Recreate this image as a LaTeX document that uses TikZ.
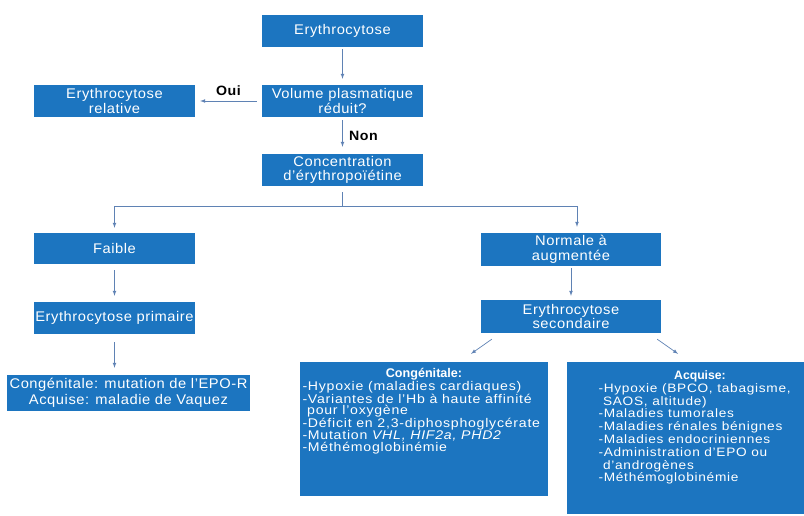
\documentclass[tikz,border=0pt]{standalone}
\usepackage{fontspec}
\setmainfont{Liberation Sans}[FakeStretch=1.05, LetterSpace=4]
\newfontfamily\listfont{Liberation Sans}[FakeStretch=1.12, LetterSpace=6]
\newfontfamily\titlefont{Liberation Sans}
\usepackage{xcolor}
\usepackage{tikz}
\usetikzlibrary{positioning, calc, arrows.meta}
\definecolor{boxblue}{RGB}{28,117,192}
\definecolor{arrowblue}{RGB}{95,130,180}

\begin{document}
\begin{tikzpicture}[x=1pt, y=-1pt]
			\tikzset{arrow/.style={-latex, arrowblue, line width=0.7pt}}
			\tikzset{box/.style={fill=boxblue, text=white, minimum width=161pt, minimum height=32pt, inner xsep=1pt, inner ysep=2pt, align=center, font=\fontsize{14}{14.5}\selectfont}}
			\tikzset{answer/.style={text=black, font=\fontsize{13.5}{13.5}\selectfont\bfseries}}
			\tikzset{list/.style={box, inner sep=2pt, font=\listfont\fontsize{12.6}{11.8}\selectfont}}

			\useasboundingbox (0,0) rectangle (804,516);

			\node (ery) [box] at (342.5,31) {Erythrocytose};
			\node (vol) [box] at (342.5,101) {Volume plasmatique\\réduit?};
			\node (rel) [box] at (114.5,101) {Erythrocytose\\relative};
			\node (conc) [box] at (342.5,170) {Concentration\\d’érythropoïétine};
			\coordinate (split) at (342.5,206);

			\node (faible) [box, minimum height=31pt] at (114.5,248.5) {Faible};
			\node (prim) [box] at (114.5,318) {Erythrocytose primaire};
			\node (primres) [box, minimum width=243pt, minimum height=36pt, font=\fontsize{14}{16}\selectfont] at (128.5,393) {Congénitale: mutation de l’EPO-R\\Acquise: maladie de Vaquez};

			\node (norm) [box, minimum width=180pt, minimum height=33pt] at (571,249.5) {Normale à\\augmentée};
			\node (sec) [box, minimum width=180pt, minimum height=33pt] at (571,316.5) {Erythrocytose\\secondaire};

			\node (cong) [list, minimum width=248pt, text height=13.5pt, text depth=116.5pt] at (424,429) {\parbox[t]{243pt}{%
				\centering{\titlefont\bfseries Congénitale:}\par
				\raggedright
				-Hypoxie (maladies cardiaques)\\
				-Variantes de l’Hb à haute affinité\\
				\phantom{-}pour l’oxygène\\
				-Déficit en 2,3-diphosphoglycérate\\
				-Mutation \textit{VHL, HIF2a, PHD2}\\
				-Méthémoglobinémie\par}};
			\node (acq) [list, minimum width=237pt, text height=15.5pt, text depth=132.5pt, font=\listfont\fontsize{12.2}{12.8}\selectfont] at (685.5,438) {\hspace*{29pt}\parbox[t]{203pt}{%
				\centering{\titlefont\bfseries Acquise:}\par
				\raggedright
				-Hypoxie (BPCO, tabagisme,\\
				\phantom{-}SAOS, altitude)\\
				-Maladies tumorales\\
				-Maladies rénales bénignes\\
				-Maladies endocriniennes\\
				-Administration d’EPO ou\\
				\phantom{-}d’androgènes\\
				-Méthémoglobinémie\par}};

			% main column
			\draw[arrow, shorten <=2pt, shorten >=6pt] (ery) -- (vol);
			\draw[arrow, shorten <=5pt, shorten >=5pt] (vol) -- node[answer, above=2pt]{Oui} (rel);
			\draw[arrow, shorten <=3pt, shorten >=7pt] (vol) -- node[answer, right=3pt]{Non} (conc);

			% split on the level of erythropoietin
			\draw[arrowblue, line width=0.7pt, shorten <=6pt] (conc) -- (split);
			\draw[arrow, shorten >=5pt] (split) -| (faible.north);
			\draw[arrow, shorten >=6pt] (split) -| ([xshift=6pt]norm.north);

			\draw[arrow, shorten <=6pt, shorten >=6pt] (faible) -- (prim);
			\draw[arrow, shorten <=8pt, shorten >=7pt] (prim.south) -- (prim.south |- primres.north);
			\draw[arrow, shorten <=2pt, shorten >=4pt] (norm) -- (sec);

			\draw[arrow] ([shift={(11,6)}]sec.south west) -- ([shift={(47,-8)}]cong.north);
			\draw[arrow] ([shift={(-4,6)}]sec.south east) -- ([shift={(-7.5,-8)}]acq.north);

\end{tikzpicture}
\end{document}
